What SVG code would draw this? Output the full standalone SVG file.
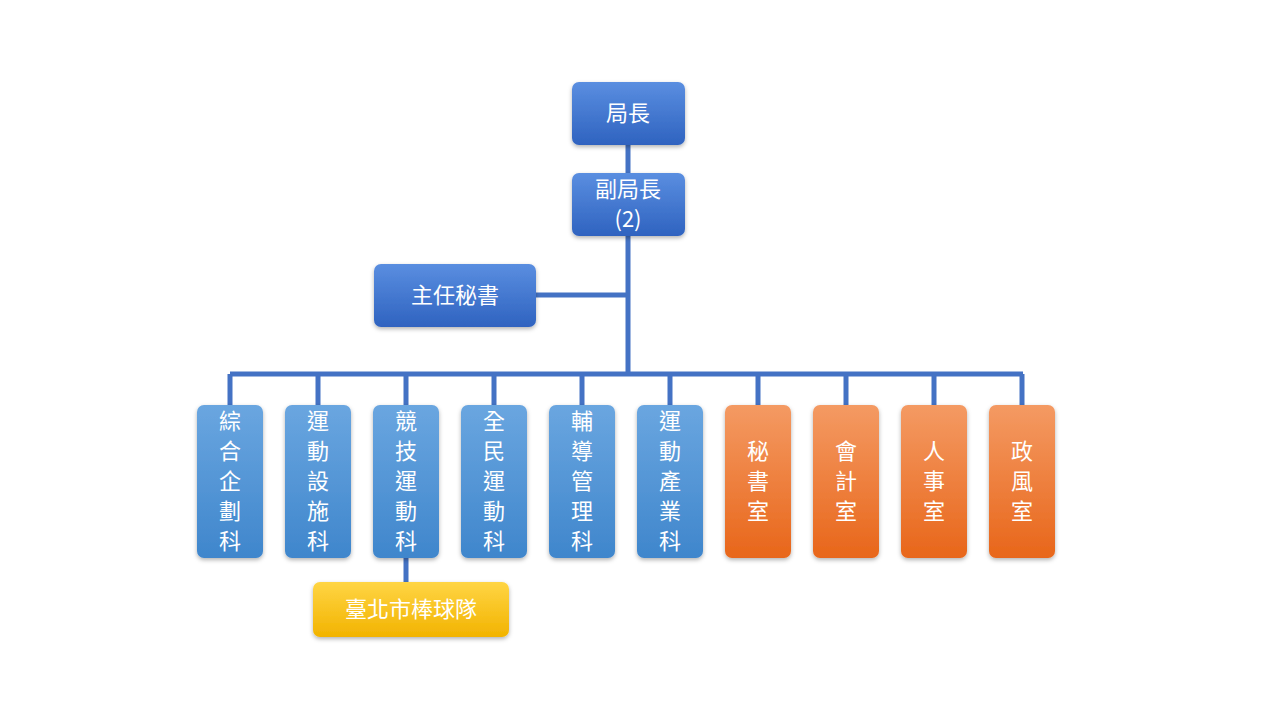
<svg xmlns="http://www.w3.org/2000/svg" width="1280" height="720" viewBox="0 0 1280 720">
<defs>
<linearGradient id="gTop" x1="0" y1="0" x2="0" y2="1"><stop offset="0" stop-color="#5a8ee0"/><stop offset="1" stop-color="#2f63c0"/></linearGradient>
<linearGradient id="gBlue" x1="0" y1="0" x2="0" y2="1"><stop offset="0" stop-color="#6aa6e0"/><stop offset="1" stop-color="#3f86cc"/></linearGradient>
<linearGradient id="gOr" x1="0" y1="0" x2="0" y2="1"><stop offset="0" stop-color="#f49a63"/><stop offset="1" stop-color="#e8661a"/></linearGradient>
<linearGradient id="gY" x1="0" y1="0" x2="0" y2="1"><stop offset="0" stop-color="#ffd544"/><stop offset="1" stop-color="#f2b300"/></linearGradient>
<filter id="sh" x="-20%" y="-20%" width="140%" height="140%"><feDropShadow dx="0" dy="2" stdDeviation="2" flood-color="#000" flood-opacity="0.3"/></filter>
</defs>
<style>
text{font-family:"Noto Sans CJK TC","Noto Sans",sans-serif;fill:#fff;font-size:22px;text-anchor:middle}
.c{stroke:#4472c4;stroke-width:5;fill:none}
rect{filter:url(#sh)}
</style>
<rect width="1280" height="720" fill="#fff" style="filter:none"/>
<g id="connectors">
<path class="c" d="M628 145V374M536 295H628M230 374H1023M230 374V405M318 374V405M406 374V405M494 374V405M582 374V405M670 374V405M758 374V405M846 374V405M934 374V405M1022 374V405M406 558V582"/>
</g>
<g id="n1"><rect x="572" y="82" width="113" height="63" rx="7" fill="url(#gTop)"/><text x="628" y="121">局長</text></g>
<g id="n2"><rect x="572" y="173" width="113" height="63" rx="7" fill="url(#gTop)"/><text x="628" y="197">副局長</text><text x="628" y="227">(2)</text></g>
<g id="n3"><rect x="374" y="264" width="162" height="63" rx="7" fill="url(#gTop)"/><text x="455" y="303">主任秘書</text></g>
<g id="c1"><rect x="197" y="405" width="66" height="153" rx="7" fill="url(#gBlue)"/><text x="230" y="429">綜</text><text x="230" y="459">合</text><text x="230" y="489">企</text><text x="230" y="519">劃</text><text x="230" y="549">科</text></g>
<g id="c2"><rect x="285" y="405" width="66" height="153" rx="7" fill="url(#gBlue)"/><text x="318" y="429">運</text><text x="318" y="459">動</text><text x="318" y="489">設</text><text x="318" y="519">施</text><text x="318" y="549">科</text></g>
<g id="c3"><rect x="373" y="405" width="66" height="153" rx="7" fill="url(#gBlue)"/><text x="406" y="429">競</text><text x="406" y="459">技</text><text x="406" y="489">運</text><text x="406" y="519">動</text><text x="406" y="549">科</text></g>
<g id="c4"><rect x="461" y="405" width="66" height="153" rx="7" fill="url(#gBlue)"/><text x="494" y="429">全</text><text x="494" y="459">民</text><text x="494" y="489">運</text><text x="494" y="519">動</text><text x="494" y="549">科</text></g>
<g id="c5"><rect x="549" y="405" width="66" height="153" rx="7" fill="url(#gBlue)"/><text x="582" y="429">輔</text><text x="582" y="459">導</text><text x="582" y="489">管</text><text x="582" y="519">理</text><text x="582" y="549">科</text></g>
<g id="c6"><rect x="637" y="405" width="66" height="153" rx="7" fill="url(#gBlue)"/><text x="670" y="429">運</text><text x="670" y="459">動</text><text x="670" y="489">產</text><text x="670" y="519">業</text><text x="670" y="549">科</text></g>
<g id="c7"><rect x="725" y="405" width="66" height="153" rx="7" fill="url(#gOr)"/><text x="758" y="459">秘</text><text x="758" y="489">書</text><text x="758" y="519">室</text></g>
<g id="c8"><rect x="813" y="405" width="66" height="153" rx="7" fill="url(#gOr)"/><text x="846" y="459">會</text><text x="846" y="489">計</text><text x="846" y="519">室</text></g>
<g id="c9"><rect x="901" y="405" width="66" height="153" rx="7" fill="url(#gOr)"/><text x="934" y="459">人</text><text x="934" y="489">事</text><text x="934" y="519">室</text></g>
<g id="c10"><rect x="989" y="405" width="66" height="153" rx="7" fill="url(#gOr)"/><text x="1022" y="459">政</text><text x="1022" y="489">風</text><text x="1022" y="519">室</text></g>
<g id="team"><rect x="313" y="582" width="196" height="55" rx="7" fill="url(#gY)"/><text x="411" y="617">臺北市棒球隊</text></g>
</svg>
